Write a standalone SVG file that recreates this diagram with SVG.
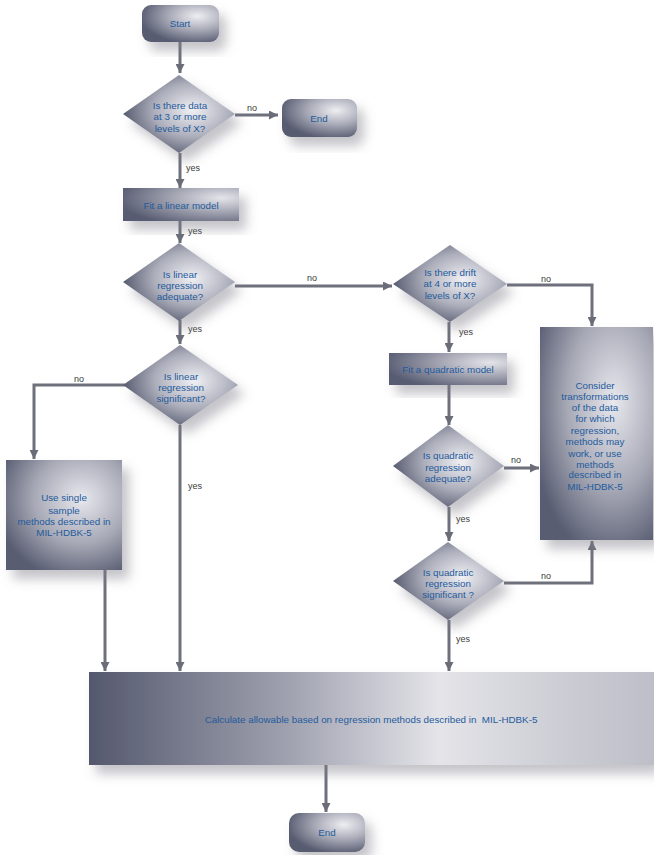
<svg xmlns="http://www.w3.org/2000/svg" width="654" height="855" viewBox="0 0 654 855">
<defs>
<radialGradient id="gDia" cx="0.62" cy="0.45" r="0.62">
<stop offset="0" stop-color="#f0f0f4"/><stop offset="0.55" stop-color="#acaebb"/><stop offset="1" stop-color="#585c70"/>
</radialGradient>
<radialGradient id="gTerm" cx="0.72" cy="0.3" r="0.75">
<stop offset="0" stop-color="#eeeef2"/><stop offset="0.5" stop-color="#a8aab7"/><stop offset="1" stop-color="#585c71"/>
</radialGradient>
<radialGradient id="gRect" cx="0.85" cy="0.3" r="0.9">
<stop offset="0" stop-color="#e4e4ea"/><stop offset="0.5" stop-color="#9fa1af"/><stop offset="1" stop-color="#585c72"/>
</radialGradient>
<radialGradient id="gTall" cx="0.65" cy="0.35" r="0.75">
<stop offset="0" stop-color="#e8e8ee"/><stop offset="0.55" stop-color="#a6a8b5"/><stop offset="1" stop-color="#595d72"/>
</radialGradient>
<linearGradient id="gBig" x1="0" y1="0" x2="1" y2="0">
<stop offset="0" stop-color="#54586d"/><stop offset="0.35" stop-color="#9fa1af"/><stop offset="0.62" stop-color="#e4e4e9"/><stop offset="0.85" stop-color="#cbccd3"/><stop offset="1" stop-color="#bdbec7"/>
</linearGradient>
<filter id="sh" x="-20%" y="-20%" width="150%" height="160%">
<feDropShadow dx="7" dy="9" stdDeviation="6" flood-color="#7a7c88" flood-opacity="0.45"/>
</filter>
<marker id="ah" viewBox="0 0 10 10" refX="10" refY="5" markerWidth="9" markerHeight="9" markerUnits="userSpaceOnUse" orient="auto">
<path d="M0,0 L10,5 L0,10 z" fill="#6a6d78"/>
</marker>
</defs>
<style>
.c{fill:none;stroke:#6e717c;stroke-width:3;marker-end:url(#ah)}
.t{font-family:"Liberation Sans",Arial,sans-serif;font-size:9.8px;fill:#1f5b9c;text-anchor:middle}
.l{font-family:"Liberation Sans",Arial,sans-serif;font-size:9px;fill:#3a3a3a}
</style>
<rect width="654" height="855" fill="#ffffff"/>
<g id="connectors">
<path class="c" d="M180,42 V73"/>
<path class="c" d="M235,115 H278"/>
<path class="c" d="M180,153 V188"/>
<path class="c" d="M180,221 V243"/>
<path class="c" d="M235,286 H392"/>
<path class="c" d="M180,320 V344"/>
<path class="c" d="M125,385 H34 V459"/>
<path class="c" d="M180,425 V671"/>
<path class="c" d="M105,570 V671"/>
<path class="c" d="M507,285 H592 V326"/>
<path class="c" d="M449,322 V352"/>
<path class="c" d="M449,385 V425"/>
<path class="c" d="M504,468 H539"/>
<path class="c" d="M449,507 V541"/>
<path class="c" d="M504,583 H592 V541"/>
<path class="c" d="M449,620 V671"/>
<path class="c" d="M326,765 V812"/>
<text class="l" x="247" y="111">no</text>
<text class="l" x="186" y="171">yes</text>
<text class="l" x="188" y="234">yes</text>
<text class="l" x="307" y="281">no</text>
<text class="l" x="188" y="332">yes</text>
<text class="l" x="74" y="382">no</text>
<text class="l" x="188" y="489">yes</text>
<text class="l" x="541" y="282">no</text>
<text class="l" x="459" y="335">yes</text>
<text class="l" x="511" y="463">no</text>
<text class="l" x="456" y="522">yes</text>
<text class="l" x="541" y="579">no</text>
<text class="l" x="456" y="642">yes</text>
</g>
<g id="start"><rect x="142" y="5" width="77" height="37" rx="9" fill="url(#gTerm)" filter="url(#sh)"/><text class="t" x="180" y="27">Start</text></g>
<g id="d1"><path d="M179,75 L235,114 L179,153 L123,114 z" fill="url(#gDia)" filter="url(#sh)"/><text class="t" x="180" y="109">Is there data</text><text class="t" x="180" y="120">at 3 or more</text><text class="t" x="180" y="132">levels of X?</text></g>
<g id="end1"><rect x="282" y="99" width="75" height="38" rx="9" fill="url(#gTerm)" filter="url(#sh)"/><text class="t" x="319" y="122">End</text></g>
<g id="fitlin"><rect x="123" y="188" width="116" height="33" fill="url(#gRect)" filter="url(#sh)"/><text class="t" x="181" y="209">Fit a linear model</text></g>
<g id="d2"><path d="M179,243 L235,282 L179,321 L123,282 z" fill="url(#gDia)" filter="url(#sh)"/><text class="t" x="180" y="278">Is linear</text><text class="t" x="180" y="289">regression</text><text class="t" x="180" y="300">adequate?</text></g>
<g id="d3"><path d="M180,345 L238,385 L180,425 L123,385 z" fill="url(#gDia)" filter="url(#sh)"/><text class="t" x="181" y="380">Is linear</text><text class="t" x="181" y="391">regression</text><text class="t" x="181" y="402">significant?</text></g>
<g id="usesingle"><rect x="6" y="460" width="116" height="110" fill="url(#gTall)" filter="url(#sh)"/><text class="t" x="64" y="501">Use single</text><text class="t" x="64" y="514">sample</text><text class="t" x="64" y="525">methods described in</text><text class="t" x="64" y="536">MIL-HDBK-5</text></g>
<g id="d4"><path d="M450,245 L507,284 L450,322 L393,284 z" fill="url(#gDia)" filter="url(#sh)"/><text class="t" x="450" y="276">Is there drift</text><text class="t" x="450" y="287">at 4 or more</text><text class="t" x="450" y="299">levels of X?</text></g>
<g id="fitquad"><rect x="389" y="353" width="118" height="32" fill="url(#gRect)" filter="url(#sh)"/><text class="t" x="448" y="373">Fit a quadratic model</text></g>
<g id="consider"><rect x="540" y="327" width="113" height="213" fill="url(#gTall)" filter="url(#sh)"/><text class="t" x="595" y="389">Consider</text><text class="t" x="595" y="400">transformations</text><text class="t" x="595" y="411">of the data</text><text class="t" x="595" y="422">for which</text><text class="t" x="595" y="434">regression,</text><text class="t" x="595" y="445">methods may</text><text class="t" x="595" y="457">work, or use</text><text class="t" x="595" y="468">methods</text><text class="t" x="595" y="478">described in</text><text class="t" x="595" y="490">MIL-HDBK-5</text></g>
<g id="d5"><path d="M448,425 L504,466 L448,507 L393,466 z" fill="url(#gDia)" filter="url(#sh)"/><text class="t" x="448" y="459">Is quadratic</text><text class="t" x="448" y="471">regression</text><text class="t" x="448" y="482">adequate?</text></g>
<g id="d6"><path d="M448,542 L504,581 L448,620 L393,581 z" fill="url(#gDia)" filter="url(#sh)"/><text class="t" x="448" y="576">Is quadratic</text><text class="t" x="448" y="587">regression</text><text class="t" x="448" y="598">significant ?</text></g>
<g id="calc"><rect x="89" y="672" width="565" height="93" fill="url(#gBig)" filter="url(#sh)"/><text class="t" x="371" y="723" xml:space="preserve">Calculate allowable based on regression methods described in  MIL-HDBK-5</text></g>
<g id="end2"><rect x="289" y="813" width="76" height="39" rx="10" fill="url(#gTerm)" filter="url(#sh)"/><text class="t" x="327" y="836">End</text></g>
</svg>
